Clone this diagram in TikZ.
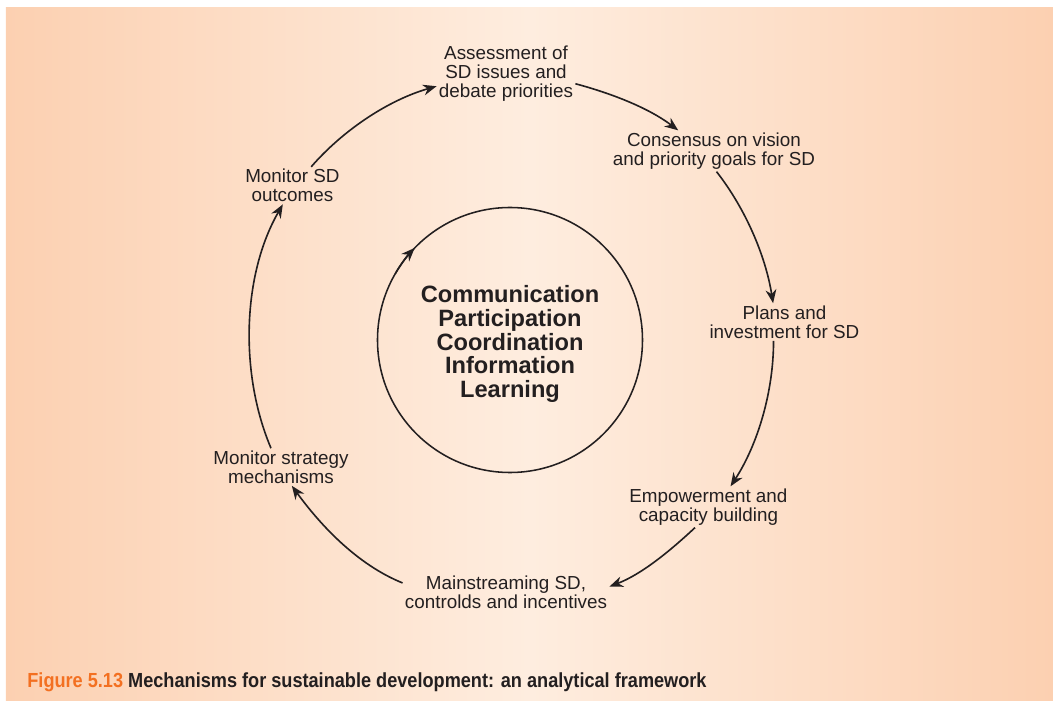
\documentclass[tikz,border=0pt]{standalone}
\usepackage{fontspec}
\setmainfont{Liberation Sans}
\newfontfamily\capfont[FakeStretch=0.89]{Liberation Sans}
\usepackage{tikz}
\usetikzlibrary{arrows.meta}
\definecolor{peachedge}{RGB}{252,208,177}
\definecolor{peachmid}{RGB}{254,237,223}
\definecolor{ink}{RGB}{35,31,32}
\definecolor{figorange}{RGB}{243,112,33}

\begin{document}
\begin{tikzpicture}[
		every node/.style={text=ink, align=center, inner sep=1.5pt, font=\fontsize{13.4}{13.5}\selectfont},
		flow/.style={draw=ink, line width=1.15pt, -{Stealth[length=3.4mm, width=2.7mm]}, looseness=0.85},
		hub/.style={circle, draw=ink, line width=1.1pt, outer sep=0pt, minimum size=6.625cm, font=\bfseries\fontsize{16.8}{16.9}\selectfont}
	]
  \useasboundingbox (-12.75cm, 8.5cm) rectangle (13.575cm, -9.025cm);
  \shade[left color=peachedge, right color=peachedge, middle color=peachmid] (-12.6cm, 8.3cm) rectangle (13.575cm, -9.025cm);
  \node (hub) [hub] at (0cm, 0cm) {\rule{0pt}{18pt}Communication\\Participation\\Coordination\\Information\\Learning};
  \node (assess) at (-0.1cm, 6.65cm) {Assessment of\\SD issues and\\debate priorities};
  \node (consensus) at (5.1cm, 4.725cm) {Consensus on vision\\and priority goals for SD};
  \node (plans) at (6.86cm, 0.45cm) {Plans and\\investment for SD};
  \node (empower) at (4.96cm, -4.175cm) {Empowerment and\\capacity building};
  \node (mainstream) at (-0.1cm, -6.3cm) {Mainstreaming SD,\\controlds and incentives};
  \node (monstrat) at (-5.725cm, -3.175cm) {Monitor strategy\\mechanisms};
  \node (monsd) at (-5.44cm, 3.86cm) {Monitor SD\\outcomes};
  \node (caption) [anchor=base west, font=\capfont\bfseries\fontsize{14.5}{14.5}\selectfont] at (-12.125cm, -8.68cm) {\textcolor{figorange}{Figure 5.13} Mechanisms for sustainable development: an analytical framework};
  \draw[flow] (assess.-8.8) to[out=-15, in=143] (consensus.150);
  \draw[flow] (consensus.-83) to[out=-52, in=99] (plans.121);
  \draw[flow] (plans.240) to[out=-90, in=57] (empower.43);
  \draw[flow] (empower.-123) to[out=-137, in=21] (mainstream.3);
  \draw[flow] (mainstream.175) to[out=158, in=-54] (monstrat.-60);
  \draw[flow] (monstrat.118) to[out=113, in=240] (monsd.243);
  \draw[flow] (monsd.45) to[out=49, in=196] (assess.190);
  \draw[flow] (hub.150) arc[start angle=150, end angle=136, radius=3.3125cm];
\end{tikzpicture}
\end{document}
